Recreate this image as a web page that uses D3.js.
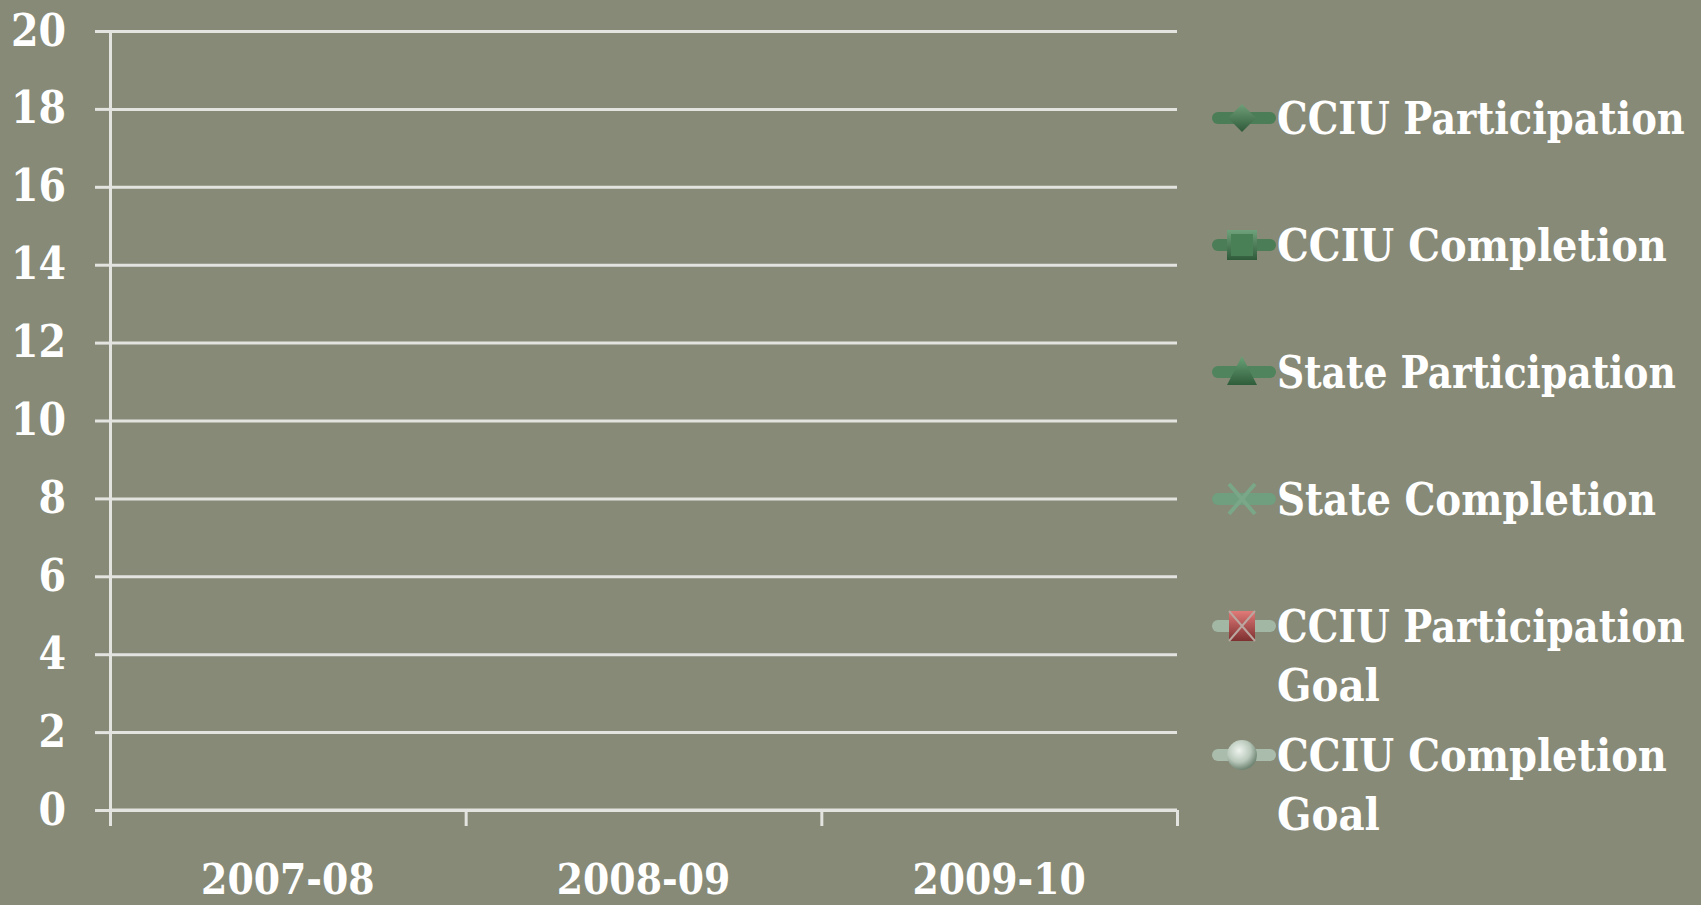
<!DOCTYPE html>
<html>
<head>
<meta charset="utf-8">
<script src="https://cdn.jsdelivr.net/npm/d3@7/dist/d3.min.js"></script>
<style>
  html, body { margin: 0; padding: 0; background: #878a77; }
  svg { display: block; }
  text { font-family: 'DejaVu Serif Condensed', 'DejaVu Serif', serif; font-stretch: condensed; font-weight: bold; fill: #ffffff; }
</style>
</head>
<body>
<svg id="chart" width="1701" height="905"></svg>
<script>
// ---- data (the reference chart shows no plotted values) ----
const categories = ["2007-08", "2008-09", "2009-10"];
const seriesNames = ["CCIU Participation", "CCIU Completion", "State Participation", "State Completion", "CCIU Participation Goal", "CCIU Completion Goal"];
const cciuParticipation = [null, null, null];
const cciuCompletion = [null, null, null];
const stateParticipation = [null, null, null];
const stateCompletion = [null, null, null];
const cciuParticipationGoal = [null, null, null];
const cciuCompletionGoal = [null, null, null];
const yTicks = [0, 2, 4, 6, 8, 10, 12, 14, 16, 18, 20];

const seriesValues = [cciuParticipation, cciuCompletion, stateParticipation, stateCompletion, cciuParticipationGoal, cciuCompletionGoal];

const svg = d3.select("#chart");
const plotLeft = 110, plotRight = 1177, plotTop = 31, plotBottom = 810;

const x = d3.scaleBand().domain(categories).range([plotLeft, plotRight]);
const xEdge = d3.scaleLinear().domain([0, categories.length]).range([plotLeft, plotRight]);
const y = d3.scaleLinear().domain([0, 20]).range([plotBottom, plotTop]);

const gridColor = "#e3e3e0";
const fontFam = "'DejaVu Serif Condensed', 'DejaVu Serif', serif";

// fit a text horizontally to a target width with a scale transform
function fitWidth(sel, x0, y0, target, anchor) {
  const n = sel.node().getComputedTextLength();
  const sx = Math.min(1, target / n);
  sel.attr("x", 0).attr("y", 0).attr("text-anchor", anchor || "start")
     .attr("transform", `translate(${x0},${y0}) scale(${sx},1)`);
}

// gridlines
svg.append("g")
  .attr("transform", `translate(${plotLeft},0)`)
  .call(d3.axisLeft(y).tickValues(yTicks).tickSize(-(plotRight - plotLeft)).tickFormat(""))
  .call(g => g.select(".domain").remove())
  .call(g => g.selectAll("line").attr("stroke", gridColor).attr("stroke-width", 3));

// y axis with labels
svg.append("g")
  .attr("transform", `translate(${plotLeft},0)`)
  .call(d3.axisLeft(y).tickValues(yTicks).tickSize(15).tickSizeOuter(0).tickPadding(29))
  .call(g => g.select(".domain").attr("stroke", gridColor).attr("stroke-width", 3))
  .call(g => g.selectAll("line").attr("stroke", gridColor).attr("stroke-width", 3))
  .call(g => g.selectAll("text").attr("font-size", 44).attr("fill", "#fff")
     .style("font-family", fontFam).style("font-weight", "bold"));

// x axis ticks at category edges
svg.append("g")
  .attr("transform", `translate(0,${plotBottom})`)
  .call(d3.axisBottom(xEdge).tickValues(d3.range(categories.length + 1)).tickSize(16).tickFormat(""))
  .call(g => g.select(".domain").attr("stroke", gridColor).attr("stroke-width", 3).attr("d", `M${plotLeft},0H${plotRight}`))
  .call(g => g.selectAll("line").attr("stroke", gridColor).attr("stroke-width", 3));

// x labels
svg.append("g")
  .attr("transform", `translate(0,${plotBottom})`)
  .call(d3.axisBottom(x).tickSize(0).tickPadding(0))
  .call(g => g.select(".domain").remove())
  .call(g => g.selectAll("text")
     .attr("dy", 0)
     .attr("font-size", 42).attr("fill", "#fff")
     .style("font-family", fontFam).style("font-weight", "bold")
     .each(function () { fitWidth(d3.select(this), 0, 84, 176, "middle"); }));

// series lines (empty in reference)
const lineColors = ["#4b7d57", "#4b7d57", "#4f845d", "#6f9f7f", "#a3b7a5", "#aabdac"];
const line = d3.line().defined(d => d.v != null).x(d => x(d.c) + x.bandwidth() / 2).y(d => y(d.v));
seriesValues.forEach((vals, i) => {
  const pts = vals.map((v, j) => ({ c: categories[j], v }));
  svg.append("path").datum(pts).attr("d", line).attr("fill", "none")
    .attr("stroke", lineColors[i]).attr("stroke-width", 6);
});

// gradients for markers
const defs = svg.append("defs");
function lin(id, c1, c2) {
  const g = defs.append("linearGradient").attr("id", id).attr("x1", 0).attr("y1", 0).attr("x2", 0).attr("y2", 1);
  g.append("stop").attr("offset", "0%").attr("stop-color", c1);
  g.append("stop").attr("offset", "100%").attr("stop-color", c2);
}
lin("gDiamond", "#6f9f78", "#2f5a3a");
lin("gSquare", "#6fa27a", "#2f5a3a");
lin("gTri", "#6aa277", "#2f5d3b");
lin("gRed", "#e07a78", "#7e3030");
const rg = defs.append("radialGradient").attr("id", "gSphere").attr("cx", "40%").attr("cy", "35%").attr("r", "65%");
rg.append("stop").attr("offset", "0%").attr("stop-color", "#eef3ee");
rg.append("stop").attr("offset", "60%").attr("stop-color", "#b8c8ba");
rg.append("stop").attr("offset", "100%").attr("stop-color", "#6f8473");

// legend
const legendRows = [
  { lines: ["CCIU Participation"], base: 134, w: [408] },
  { lines: ["CCIU Completion"], base: 261, w: [390] },
  { lines: ["State Participation"], base: 388, w: [399] },
  { lines: ["State Completion"], base: 515, w: [379] },
  { lines: ["CCIU Participation", "Goal"], base: 642, w: [408, 103] },
  { lines: ["CCIU Completion", "Goal"], base: 771, w: [390, 103] }
];
const legend = svg.append("g");
legendRows.forEach((r, i) => {
  const cy = r.base - 16;
  const g = legend.append("g");
  g.append("line").attr("x1", 1218).attr("x2", 1270).attr("y1", cy).attr("y2", cy)
    .attr("stroke", lineColors[i]).attr("stroke-width", 12).attr("stroke-linecap", "round");
  const mx = 1242;
  if (i === 0) {
    g.append("path").attr("d", `M${mx},${cy-14}L${mx+14},${cy}L${mx},${cy+14}L${mx-14},${cy}Z`).attr("fill", "url(#gDiamond)");
  } else if (i === 1) {
    g.append("rect").attr("x", mx - 15).attr("y", cy - 15).attr("width", 30).attr("height", 30).attr("fill", "url(#gSquare)");
    g.append("rect").attr("x", mx - 11).attr("y", cy - 11).attr("width", 22).attr("height", 22).attr("fill", "#4a8055");
  } else if (i === 2) {
    g.append("path").attr("d", `M${mx},${cy-16}L${mx+15},${cy+13}L${mx-15},${cy+13}Z`).attr("fill", "url(#gTri)");
  } else if (i === 3) {
    g.append("path").attr("d", `M${mx-13},${cy-15}L${mx+13},${cy+15}M${mx+13},${cy-15}L${mx-13},${cy+15}`)
      .attr("stroke", "#79a787").attr("stroke-width", 4);
  } else if (i === 4) {
    g.append("rect").attr("x", mx - 13).attr("y", cy - 15).attr("width", 26).attr("height", 30).attr("fill", "url(#gRed)");
    g.append("path").attr("d", `M${mx-13},${cy-15}L${mx+13},${cy+15}M${mx+13},${cy-15}L${mx-13},${cy+15}`)
      .attr("stroke", "#b9a7a0").attr("stroke-width", 2);
  } else {
    g.append("circle").attr("cx", mx).attr("cy", cy).attr("r", 15).attr("fill", "url(#gSphere)");
  }
  r.lines.forEach((t, k) => {
    const tx = g.append("text").attr("font-size", 45).text(t);
    fitWidth(tx, 1277, r.base + k * 59, r.w[k], "start");
  });
});
</script>
</body>
</html>
